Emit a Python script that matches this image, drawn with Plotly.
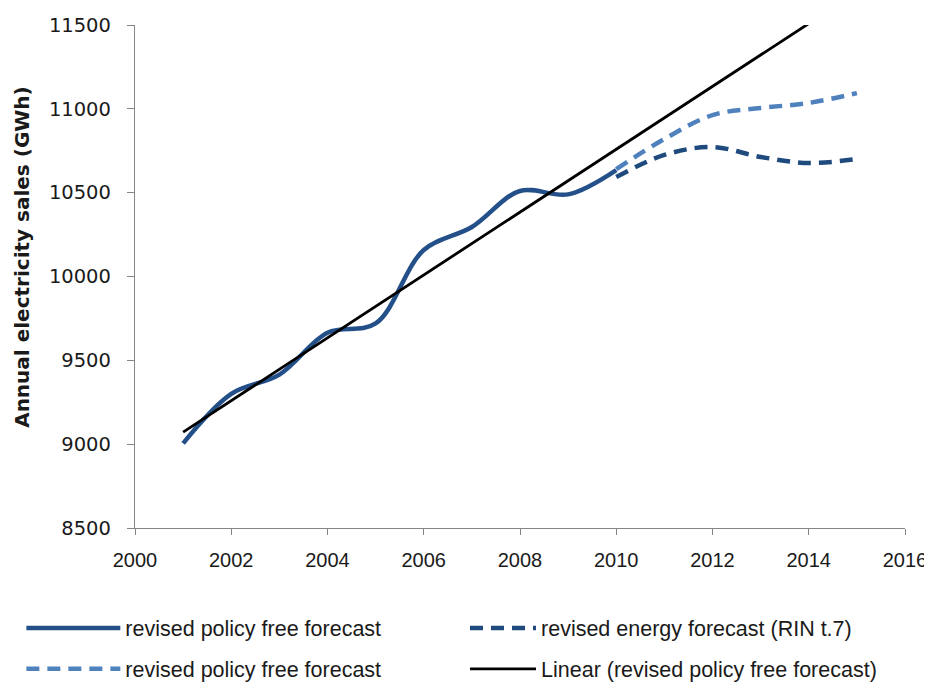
import plotly.graph_objects as go

# data
hist_years = [2001, 2002, 2003, 2004, 2005, 2006, 2007, 2008, 2009, 2010]
hist_sales = [9005, 9300, 9415, 9665, 9720, 10158, 10295, 10510, 10490, 10635]

fc_years = [2010, 2011, 2012, 2013, 2014, 2015]
policy_free = [10640, 10820, 10963, 11005, 11035, 11094]
energy_rin = [10593, 10725, 10772, 10713, 10677, 10701]

trend_years = [2001, 2015]
trend_sales = [9072, 11696]

DARK = "#24508A"
LIGHT = "#4F81BD"
AXIS = "#868686"
FONT = "Liberation Sans, Arial, sans-serif"
TXT = "#1a1a1a"

fig = go.Figure()

fig.add_trace(go.Scatter(
    x=hist_years, y=hist_sales, mode="lines", name="revised policy free forecast",
    line=dict(color=DARK, width=4.5, shape="spline"), legend="legend",
))
fig.add_trace(go.Scatter(
    x=fc_years, y=energy_rin, mode="lines", name="revised energy forecast (RIN t.7)",
    line=dict(color="#1F4A7E", width=4.5, shape="spline", dash="13px,8px"), legend="legend2",
))
fig.add_trace(go.Scatter(
    x=fc_years, y=policy_free, mode="lines", name="revised policy free forecast",
    line=dict(color=LIGHT, width=4.5, shape="spline", dash="13px,8px"), legend="legend3",
))
fig.add_trace(go.Scatter(
    x=trend_years, y=trend_sales, mode="lines", name="Linear (revised policy free forecast)",
    line=dict(color="black", width=2.8), legend="legend4",
))


def leg(x, y, w):
    return dict(x=x, y=y, xanchor="left", yanchor="middle", itemwidth=w,
                bgcolor="rgba(0,0,0,0)", font=dict(family=FONT, size=21.5, color=TXT))


# the page body adds an 8px margin, so the figure is 8px smaller on each axis
fig.update_layout(
    width=924,
    height=674,
    margin=dict(l=127, r=27, t=17, b=154, autoexpand=False),
    paper_bgcolor="white",
    plot_bgcolor="white",
    font=dict(family=FONT, size=20, color=TXT),
    showlegend=True,
    legend=leg(-0.1476, -0.199, 94),
    legend2=leg(0.4286, -0.199, 66),
    legend3=leg(-0.1476, -0.280, 94),
    legend4=leg(0.4286, -0.280, 66),
    annotations=[dict(
        text="<b>Annual electricity sales (GWh)</b>", textangle=-90,
        xref="paper", yref="paper", x=-0.1468, y=0.539,
        xanchor="center", yanchor="middle", showarrow=False,
        font=dict(family="DejaVu Sans, sans-serif", size=20, color=TXT),
    )],
)

fig.update_xaxes(
    range=[2000, 2016], dtick=2, tick0=2000, tickformat="d",
    showgrid=False, zeroline=False,
    showline=True, linecolor=AXIS, linewidth=1.3,
    ticks="outside", ticklen=6, tickcolor=AXIS,
    ticklabelstandoff=8,
    tickfont=dict(family=FONT, size=20, color=TXT),
)
fig.update_yaxes(
    range=[8500, 11500], dtick=500, tick0=8500, tickformat="d",
    showgrid=False, zeroline=False,
    showline=True, linecolor=AXIS, linewidth=1.3,
    ticks="outside", ticklen=7, tickcolor=AXIS,
    ticklabelstandoff=12,
    tickfont=dict(family="DejaVu Sans, sans-serif", size=19.5, color=TXT),
)

fig.write_html("out.html")
